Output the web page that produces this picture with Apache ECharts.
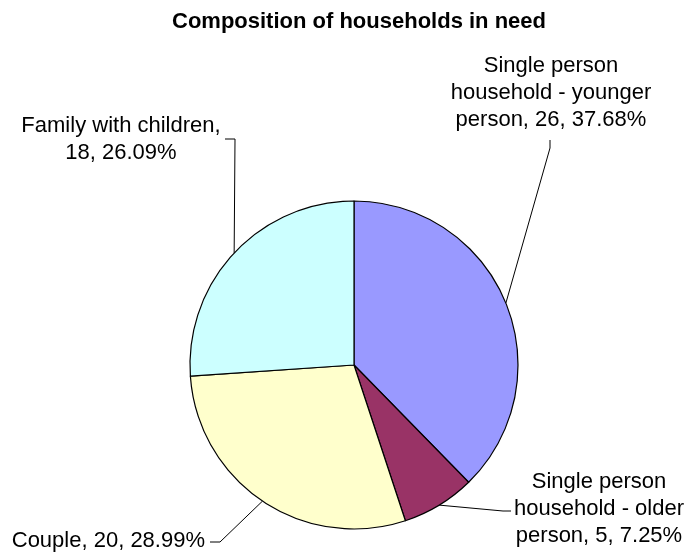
<!DOCTYPE html>
<html>
<head>
<meta charset="utf-8">
<title>Composition of households in need</title>
<script src="https://cdn.jsdelivr.net/npm/echarts@6/dist/echarts.min.js"></script>
<style>
  html, body { margin: 0; padding: 0; background: #ffffff; }
  #chart { width: 688px; height: 556px; }
</style>
</head>
<body>
<div id="chart"></div>
<script>
// Household types (line breaks follow how each label wraps)
const categories = [
  'Single person\nhousehold - younger\nperson',
  'Single person\nhousehold - older\nperson',
  'Couple',
  'Family with children'
];
// Number of households of each type
const counts = [26, 5, 20, 18];
// Separator between the name and its figures
const nameBreak = [' ', ' ', ' ', '\n'];
const sliceColors = ['#9999FF', '#993366', '#FFFFCC', '#CCFFFF'];

const total = counts.reduce((a, b) => a + b, 0);
const FONT = '"Liberation Sans", Arial, Helvetica, sans-serif';

// Where each label sits and how its leader line bends
const labelPlacement = [
  { x: 551, y: 93,  align: 'center', bend: [[550, 148], [550, 140]] },
  { x: 599, y: 509, align: 'center', bend: [[503, 511], [511, 511]] },
  { x: 205, y: 541, align: 'right',  bend: [[220, 542], [210, 542]] },
  { x: 121, y: 139, align: 'center', bend: [[235, 139], [225, 139]] }
];

const chart = echarts.init(document.getElementById('chart'), null, { renderer: 'canvas' });

chart.setOption({
  backgroundColor: '#ffffff',
  animation: false,
  title: {
    text: 'Composition of households in need',
    left: 354,
    top: 6,
    textAlign: 'center',
    textStyle: { fontFamily: FONT, fontSize: 22, fontWeight: 'bold', color: '#000000' }
  },
  series: [{
    type: 'pie',
    center: [354, 365],
    radius: 164,
    startAngle: 90,
    clockwise: true,
    avoidLabelOverlap: false,
    data: categories.map((name, i) => ({
      name: name,
      value: counts[i],
      itemStyle: { color: sliceColors[i] }
    })),
    itemStyle: { borderColor: '#000000', borderWidth: 1.2 },
    label: {
      show: true,
      position: 'outside',
      fontFamily: FONT,
      fontSize: 22,
      lineHeight: 27,
      color: '#000000',
      formatter: p => p.name + ',' + nameBreak[p.dataIndex] + p.value + ', ' +
        (p.value / total * 100).toFixed(2) + '%'
    },
    labelLine: {
      show: true,
      length: 10,
      length2: 10,
      lineStyle: { color: '#000000', width: 1 }
    },
    labelLayout: function (params) {
      const pl = labelPlacement[params.dataIndex];
      const start = params.labelLinePoints ? params.labelLinePoints[0] : pl.bend[0];
      return {
        x: pl.x,
        y: pl.y,
        align: pl.align,
        verticalAlign: 'middle',
        labelLinePoints: [start, pl.bend[0], pl.bend[1]]
      };
    },
    emphasis: { disabled: true }
  }]
});
</script>
</body>
</html>
